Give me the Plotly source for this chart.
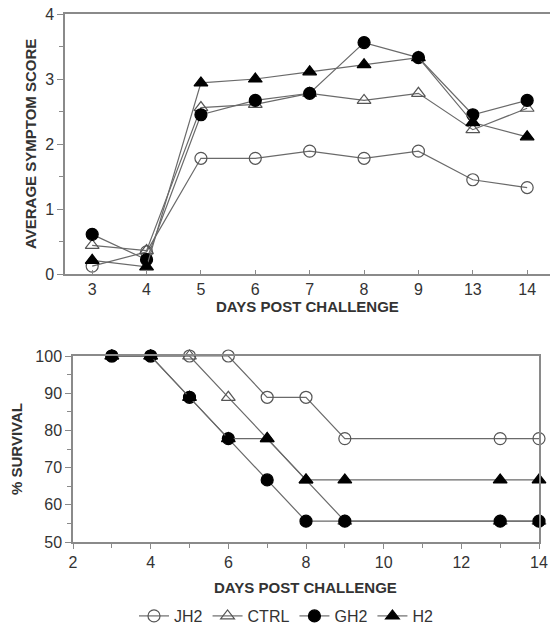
import plotly.graph_objects as go

# ---- data ----
days_cat = ["3", "4", "5", "6", "7", "8", "9", "13", "14"]
score_jh2 = [0.12, 0.34, 1.78, 1.78, 1.89, 1.78, 1.89, 1.45, 1.33]
score_ctrl = [0.44, 0.36, 2.56, 2.61, 2.78, 2.67, 2.78, 2.22, 2.55]
score_gh2 = [0.61, 0.22, 2.45, 2.67, 2.78, 3.56, 3.33, 2.45, 2.67]
score_h2 = [0.21, 0.11, 2.94, 3.0, 3.11, 3.22, 3.33, 2.33, 2.11]

days_num = [3, 4, 5, 6, 7, 8, 9, 13, 14]
surv_jh2 = [100, 100, 100, 100, 88.9, 88.9, 77.8, 77.8, 77.8]
surv_ctrl = [100, 100, 100, 88.9, 77.8, 66.7, 55.6, 55.6, 55.6]
surv_gh2 = [100, 100, 88.9, 77.8, 66.7, 55.6, 55.6, 55.6, 55.6]
surv_h2 = [100, 100, 88.9, 77.8, 77.8, 66.7, 66.7, 66.7, 66.7]

series_names = ["JH2", "CTRL", "GH2", "H2"]

FONT = "Liberation Sans, Arial, sans-serif"
LINE = "#6a6a6a"
AXIS = "#8a8a8a"
TXT = "#333333"

styles = {
    "JH2": dict(symbol="circle-open", color="#555555", size=12),
    "CTRL": dict(symbol="triangle-up-open", color="#555555", size=12),
    "GH2": dict(symbol="circle", color="#000000", size=12),
    "H2": dict(symbol="triangle-up", color="#000000", size=12),
}

fig = go.Figure()

top_vals = [score_jh2, score_ctrl, score_gh2, score_h2]
bot_vals = [surv_jh2, surv_ctrl, surv_gh2, surv_h2]

for name, vals in zip(series_names, top_vals):
    st = styles[name]
    fig.add_trace(go.Scatter(
        x=days_cat, y=vals, mode="lines+markers", name=name,
        line=dict(color=LINE, width=1.2),
        marker=dict(symbol=st["symbol"], size=st["size"], color=st["color"],
                    line=dict(color=st["color"], width=1.2)),
        xaxis="x", yaxis="y", showlegend=True, cliponaxis=False))

for name, vals in zip(series_names, bot_vals):
    st = styles[name]
    fig.add_trace(go.Scatter(
        x=days_num, y=vals, mode="lines+markers", name=name,
        line=dict(color=LINE, width=1.2),
        marker=dict(symbol=st["symbol"], size=st["size"], color=st["color"],
                    line=dict(color=st["color"], width=1.2)),
        xaxis="x2", yaxis="y2", showlegend=False, cliponaxis=False))

H = 634
W = 550

def py(px):
    return 1 - px / H

tickfont = dict(family=FONT, size=16, color=TXT)

fig.update_layout(
    width=W, height=H, autosize=False,
    margin=dict(l=0, r=0, t=0, b=0, pad=0, autoexpand=False),
    paper_bgcolor="white", plot_bgcolor="white",
    font=dict(family=FONT, color=TXT),
    showlegend=True,
    legend=dict(orientation="h", x=0.52, xanchor="center", y=py(616), yanchor="middle",
                font=dict(family=FONT, size=16, color=TXT), itemwidth=30,
                tracegroupgap=0, bgcolor="rgba(0,0,0,0)"),
    xaxis=dict(domain=[65 / W, 1.0], anchor="y", type="category",
               categoryorder="array", categoryarray=days_cat, automargin=False,
               range=[-0.5, 8.42], showline=True, linecolor=AXIS, linewidth=1.5,
               mirror=True, ticks="inside", ticklen=4, tickcolor=AXIS,
               showgrid=False, zeroline=False, tickfont=tickfont),
    yaxis=dict(domain=[py(274), py(14)], anchor="x", range=[0, 4], dtick=1,
               automargin=False,
               showline=True, linecolor=AXIS, linewidth=1.5, ticks="outside",
               ticklen=6, tickcolor=AXIS, showgrid=False, zeroline=False,
               minor=dict(dtick=0.5, ticks="outside", ticklen=4, tickcolor=AXIS),
               tickfont=tickfont),
    xaxis2=dict(domain=[73 / W, 539 / W], anchor="y2", range=[2, 14], dtick=2,
                automargin=False,
                showline=True, linecolor=AXIS, linewidth=1.5, mirror=True,
                ticks="outside", ticklen=5, tickcolor=AXIS, showgrid=False,
                zeroline=False,
                minor=dict(dtick=1, ticks="outside", ticklen=4, tickcolor=AXIS),
                tickfont=tickfont),
    yaxis2=dict(domain=[py(542), py(356)], anchor="x2", range=[50, 100], dtick=10,
                automargin=False,
                showline=True, linecolor=AXIS, linewidth=1.5, mirror=True,
                ticks="outside", ticklen=6, tickcolor=AXIS, showgrid=False,
                zeroline=False,
                minor=dict(dtick=5, ticks="outside", ticklen=4, tickcolor=AXIS),
                tickfont=tickfont),
)

titlefont = dict(family=FONT, size=15, color=TXT)
fig.add_annotation(text="<b>DAYS POST CHALLENGE</b>", xref="paper", yref="paper",
                   x=307 / W, y=py(306), xanchor="center", yanchor="middle",
                   showarrow=False, font=titlefont)
fig.add_annotation(text="<b>AVERAGE SYMPTOM SCORE</b>", xref="paper", yref="paper",
                   x=30 / W, y=py(144), xanchor="center", yanchor="middle",
                   textangle=-90, showarrow=False, font=titlefont)
fig.add_annotation(text="<b>DAYS POST CHALLENGE</b>", xref="paper", yref="paper",
                   x=305 / W, y=py(587), xanchor="center", yanchor="middle",
                   showarrow=False, font=titlefont)
fig.add_annotation(text="<b>% SURVIVAL</b>", xref="paper", yref="paper",
                   x=16 / W, y=py(449), xanchor="center", yanchor="middle",
                   textangle=-90, showarrow=False, font=titlefont)

fig.write_html("out.html", config={"displayModeBar": False},
               post_script="document.body.style.margin='0';document.body.style.padding='0';document.body.style.overflow='hidden';")
